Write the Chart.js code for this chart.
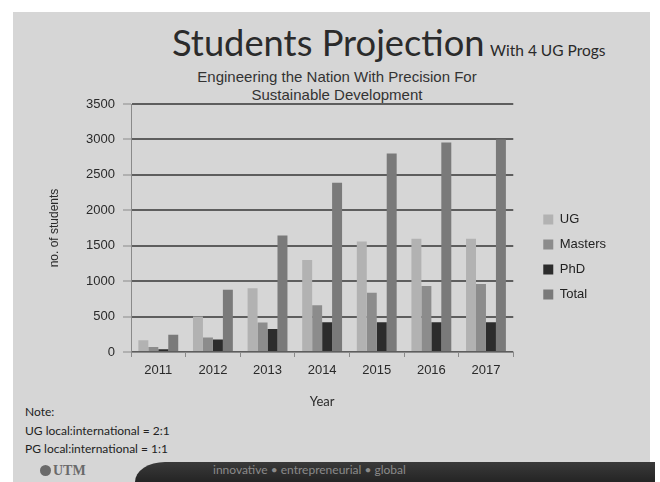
<!DOCTYPE html>
<html>
<head>
<meta charset="utf-8">
<script src="https://cdn.jsdelivr.net/npm/chart.js@4"></script>
<style>
  html, body { margin: 0; padding: 0; background: #ffffff; }
  #wrap { position: relative; width: 660px; height: 482px; overflow: hidden; }
  #slide { position: absolute; left: 13px; top: 12px; width: 637px; height: 470px; background: #d6d6d6; }
  #chart { position: absolute; left: 0; top: 0; }
  .t { position: absolute; white-space: nowrap; color: #2a2a2a; }
  #title { left: 172px; top: 20px; font-family: Lato, sans-serif; font-size: 36.3px; line-height: 44px; color: #2b2b2b; }
  #tag { left: 490px; top: 41px; font-family: Lato, sans-serif; font-size: 15.5px; line-height: 18px; }
  #sub { left: 172px; width: 330px; top: 68px; text-align: center; font-family: "Liberation Sans", Arial, sans-serif; font-size: 15px; line-height: 18px; color: #333; white-space: normal; }
  #note { left: 25px; top: 403px; font-family: Lato, sans-serif; font-size: 12px; line-height: 18.5px; color: #222; }
  #footer { position: absolute; left: 135px; top: 462px; width: 520px; height: 22px; background: linear-gradient(#3a3a3a, #222); border-top-left-radius: 30px 20px; }
  #ftext { position: absolute; left: 213px; top: 463px; font-family: Lato, sans-serif; font-size: 12px; line-height: 14px; color: #8a8a8a; }
  #logo { position: absolute; left: 40px; top: 463px; font-family: "Liberation Serif", serif; font-weight: bold; font-size: 14px; line-height: 16px; color: #6a6a6a; }
  #logo span.c { display: inline-block; width: 11px; height: 11px; border-radius: 50%; background: #6a6a6a; margin-right: 2px; vertical-align: -1px; }
</style>
</head>
<body>
<div id="wrap">
  <div id="slide"></div>
  <div class="t" id="title">Students Projection</div>
  <div class="t" id="tag">With 4 UG Progs</div>
  <div class="t" id="sub">Engineering the Nation With Precision For Sustainable Development</div>
  <div class="t" id="note">Note:<br>UG local:international = 2:1<br>PG local:international = 1:1</div>
  <div id="footer"></div>
  <div id="ftext">innovative • entrepreneurial • global</div>
  <div id="logo"><span class="c"></span>UTM</div>
  <canvas id="chart" width="660" height="482"></canvas>
</div>
<script>
const years = ['2011', '2012', '2013', '2014', '2015', '2016', '2017'];
const ugValues = [165, 500, 900, 1300, 1560, 1600, 1600];
const mastersValues = [70, 205, 415, 660, 835, 930, 960];
const phdValues = [38, 175, 325, 420, 420, 420, 420];
const totalValues = [245, 880, 1645, 2390, 2800, 2955, 3000];
const seriesNames = ['UG', 'Masters', 'PhD', 'Total'];
const seriesColors = ['#b2b2b2', '#8c8c8c', '#2c2c2c', '#7a7a7a'];
const yTicksMax = 3500;
const yStep = 500;

const seriesValues = [ugValues, mastersValues, phdValues, totalValues];
const tickFont = { family: '"Liberation Sans", Arial, sans-serif', size: 13 };

new Chart(document.getElementById('chart'), {
  type: 'bar',
  data: {
    labels: years,
    datasets: seriesNames.map((name, i) => ({
      label: name,
      data: seriesValues[i],
      backgroundColor: seriesColors[i],
      borderWidth: 0,
      categoryPercentage: 0.73,
      barPercentage: 1.0
    }))
  },
  options: {
    responsive: false,
    animation: false,
    devicePixelRatio: 1,
    layout: { padding: { left: 47, top: 104, bottom: 72, right: 44 } },
    plugins: {
      legend: {
        position: 'right',
        align: 'center',
        labels: {
          boxWidth: 10, boxHeight: 10, padding: 12,
          color: '#222',
          font: { family: '"Liberation Sans", Arial, sans-serif', size: 13 }
        }
      },
      tooltip: { enabled: false }
    },
    scales: {
      x: {
        grid: { drawOnChartArea: false, tickLength: 5, color: '#8a8a8a', offset: true },
        border: { color: '#8a8a8a' },
        ticks: { color: '#2a2a2a', font: tickFont, padding: 6 },
        title: { display: true, text: 'Year', color: '#2a2a2a', font: { family: 'Lato, sans-serif', size: 13 }, padding: 0 },
        afterFit: s => { s.height = 58; }
      },
      y: {
        min: 0, max: yTicksMax,
        ticks: { stepSize: yStep, color: '#2a2a2a', font: tickFont, padding: 8, callback: v => String(v) },
        grid: { color: '#5e5e5e', lineWidth: 2, tickLength: 8, tickColor: '#8a8a8a', tickWidth: 1 },
        border: { display: true, color: '#8a8a8a', width: 1 },
        title: { display: true, text: 'no. of students', color: '#2a2a2a', font: { family: '"Liberation Sans", Arial, sans-serif', size: 12 }, padding: 0 },
        afterFit: s => { s.width = 84; }
      },
      gap: {
        type: 'linear', position: 'right', display: true,
        grid: { display: false }, border: { display: false },
        ticks: { display: false },
        afterFit: s => { s.width = 18; }
      }
    }
  }
});
</script>
</body>
</html>
